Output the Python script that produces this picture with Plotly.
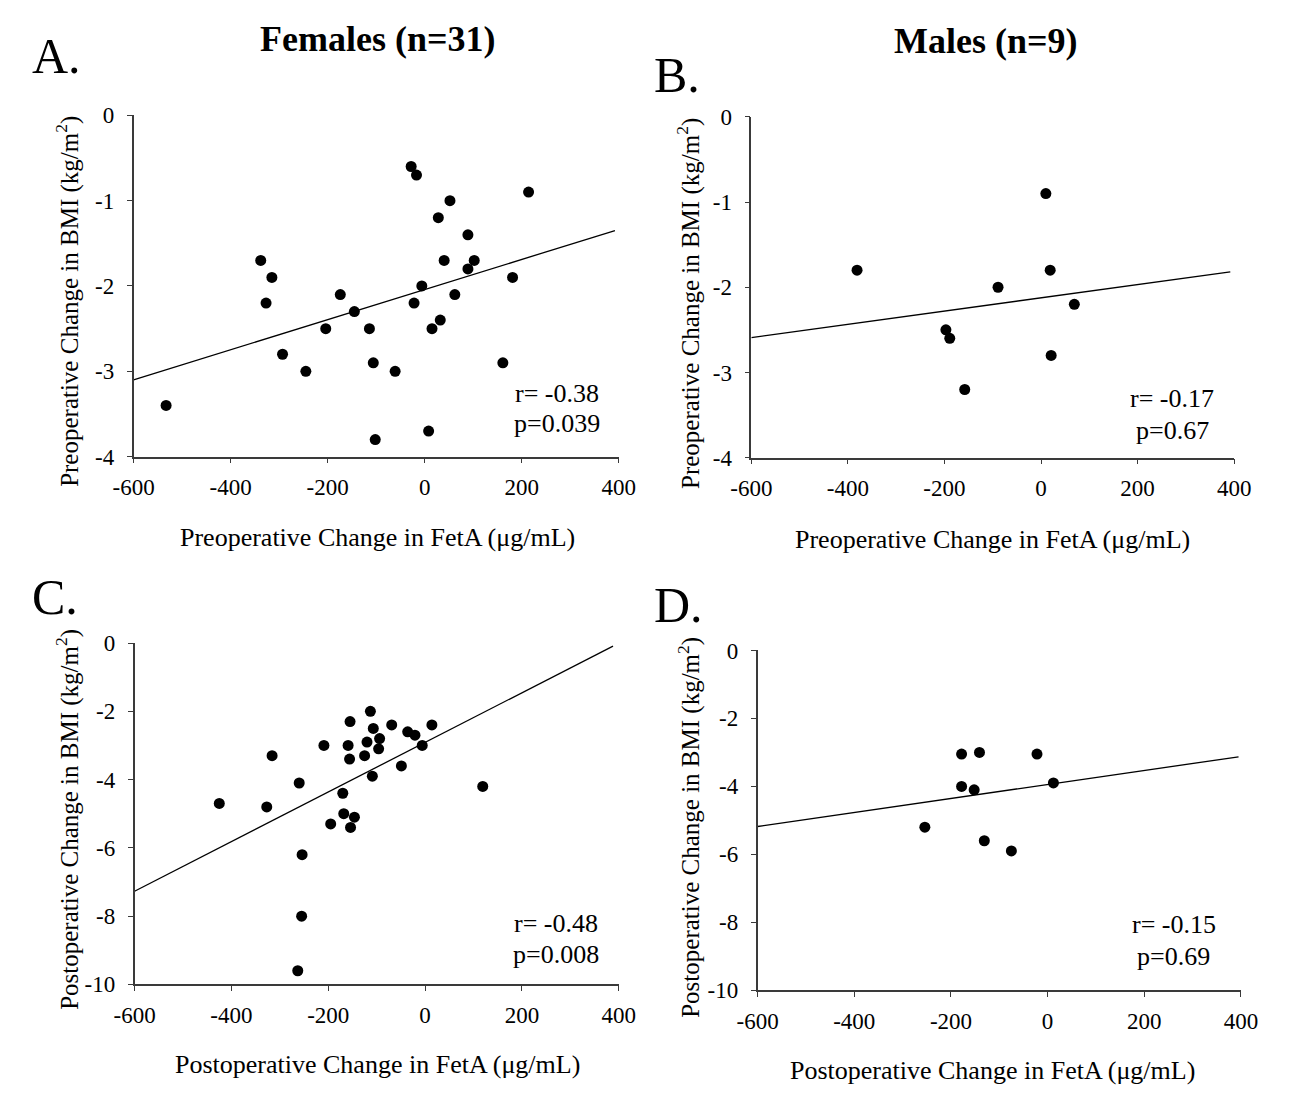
import plotly.graph_objects as go

W, H = 1289, 1101

# ---------------- data ----------------
# Panel A: Females, preoperative
a_x = [-533, -338, -315, -327, -293, -245, -204, -174, -145, -114, -106, -102, -61,
       -28, -17, -22, -6, 8, 15, 28, 32, 40, 52, 62, 89, 89, 102, 161, 181, 214]
a_y = [-3.4, -1.7, -1.9, -2.2, -2.8, -3.0, -2.5, -2.1, -2.3, -2.5, -2.9, -3.8, -3.0,
       -0.6, -0.7, -2.2, -2.0, -3.7, -2.5, -1.2, -2.4, -1.7, -1.0, -2.1, -1.4, -1.8, -1.7, -2.9, -1.9, -0.9]
a_fit_x = [-600, 392]
a_fit_y = [-3.10, -1.35]

# Panel B: Males, preoperative
b_x = [-381, -197, -189, -158, -89, 10, 19, 21, 69]
b_y = [-1.8, -2.5, -2.6, -3.2, -2.0, -0.9, -1.8, -2.8, -2.2]
b_fit_x = [-600, 392]
b_fit_y = [-2.59, -1.82]

# Panel C: Females, postoperative
c_x = [-425, -327, -316, -260, -254, -255, -263, -209, -195, -170, -168, -159, -156, -155,
       -154, -146, -125, -120, -113, -109, -107, -96, -94, -69, -49, -36, -21, -6, 14, 119]
c_y = [-4.7, -4.8, -3.3, -4.1, -6.2, -8.0, -9.6, -3.0, -5.3, -4.4, -5.0, -3.0, -3.4, -2.3,
       -5.4, -5.1, -3.3, -2.9, -2.0, -3.9, -2.5, -3.1, -2.8, -2.4, -3.6, -2.6, -2.7, -3.0, -2.4, -4.2]
c_fit_x = [-600, 388]
c_fit_y = [-7.27, -0.09]

# Panel D: Males, postoperative
d_x = [-254, -178, -178, -152, -141, -131, -75, -22, 12]
d_y = [-5.2, -3.05, -4.0, -4.1, -3.0, -5.6, -5.9, -3.05, -3.9]
d_fit_x = [-600, 395]
d_fit_y = [-5.18, -3.13]

x_ticks = [-600, -400, -200, 0, 200, 400]
y_ticks_pre = [0, -1, -2, -3, -4]
y_ticks_post = [0, -2, -4, -6, -8, -10]

stats = [("r= -0.38", "p=0.039"), ("r= -0.17", "p=0.67"),
         ("r= -0.48", "p=0.008"), ("r= -0.15", "p=0.69")]

# ---------------- layout helpers ----------------
FONT = "Liberation Serif"
AX_COL = "#3a3a3a"

def px(x):
    return x / W

def py(y):
    return 1 - y / H

# pixel boxes: (left, right, top, bottom)
boxes = {
    "A": (116, 616, 105.7, 455),
    "B": (752.5, 1250, 107.3, 456),
    "C": (117, 616, 645.7, 995),
    "D": (759, 1257, 653.3, 1001),
}

fig = go.Figure()

panels = [
    ("A", a_x, a_y, a_fit_x, a_fit_y, y_ticks_pre, [-4, 0]),
    ("B", b_x, b_y, b_fit_x, b_fit_y, y_ticks_pre, [-4, 0]),
    ("C", c_x, c_y, c_fit_x, c_fit_y, y_ticks_post, [-10, 0]),
    ("D", d_x, d_y, d_fit_x, d_fit_y, y_ticks_post, [-10, 0]),
]

layout_axes = {}
for i, (key, xs, ys, fx, fy, yt, yr) in enumerate(panels):
    n = "" if i == 0 else str(i + 1)
    xref, yref = "x" + n, "y" + n
    fig.add_trace(go.Scatter(x=fx, y=fy, mode="lines", line=dict(color="black", width=1.3),
                             xaxis=xref, yaxis=yref, showlegend=False, hoverinfo="skip"))
    fig.add_trace(go.Scatter(x=xs, y=ys, mode="markers",
                             marker=dict(color="black", size=11, line=dict(width=0)),
                             xaxis=xref, yaxis=yref, showlegend=False))
    l, r, t, b = boxes[key]
    common = dict(showline=True, linecolor=AX_COL, linewidth=1.5, ticks="outside",
                  ticklen=5, tickwidth=1.3, tickcolor=AX_COL, showgrid=False, zeroline=False,
                  tickfont=dict(family=FONT, size=23, color="black"), fixedrange=True)
    layout_axes["xaxis" + n] = dict(common, domain=[px(l), px(r)], range=[-600, 400],
                                    tickvals=x_ticks, ticktext=[str(v) for v in x_ticks],
                                    anchor=yref, ticklabelstandoff=4)
    layout_axes["yaxis" + n] = dict(common, domain=[py(b), py(t)], range=yr,
                                    tickvals=yt, ticktext=[str(v) for v in yt],
                                    anchor=xref, ticklabelstandoff=8)

fig.update_layout(**layout_axes)

ann = []

def add_text(text, x, y, size, bold=False, angle=0, xanchor="center"):
    if bold:
        text = "<b>" + text + "</b>"
    ann.append(dict(text=text, x=px(x), y=py(y), xref="paper", yref="paper",
                    showarrow=False, xanchor=xanchor, yanchor="middle", textangle=angle,
                    font=dict(family=FONT, size=size, color="black")))

# column headers
add_text("Females (n=31)", 367, 28, 36, bold=True)
add_text("Males (n=9)", 994, 30, 36, bold=True)
# panel letters
add_text("A.", 9, 45, 50, xanchor="left")
add_text("B.", 650, 64, 50, xanchor="left")
add_text("C.", 9, 599, 50, xanchor="left")
add_text("D.", 650, 607, 50, xanchor="left")
# axis titles
add_text("Preoperative Change in FetA (\u03bcg/mL)", 367, 538, 26)
add_text("Preoperative Change in FetA (\u03bcg/mL)", 1001, 540, 26)
add_text("Postoperative Change in FetA (\u03bcg/mL)", 367, 1077, 26)
add_text("Postoperative Change in FetA (\u03bcg/mL)", 1001, 1083, 26)
add_text("Preoperative Change in BMI (kg/m<sup>2</sup>)", 48, 296, 25, angle=-90)
add_text("Preoperative Change in BMI (kg/m<sup>2</sup>)", 688, 298, 25, angle=-90)
add_text("Postoperative Change in BMI (kg/m<sup>2</sup>)", 48, 826, 25, angle=-90)
add_text("Postoperative Change in BMI (kg/m<sup>2</sup>)", 688, 834, 25, angle=-90)
# statistics
stat_pos = [(552, 390, 421), (1186, 395, 428), (551, 933, 964), (1188, 934, 966)]
for (rt, pt), (sx, ry, pyy) in zip(stats, stat_pos):
    add_text(rt, sx, ry, 26)
    add_text(pt, sx, pyy, 26)

fig.update_layout(annotations=ann, width=W, height=H,
                  margin=dict(l=0, r=0, t=0, b=0),
                  paper_bgcolor="white", plot_bgcolor="white", showlegend=False)

fig.write_html("out.html", config={"displayModeBar": False})
